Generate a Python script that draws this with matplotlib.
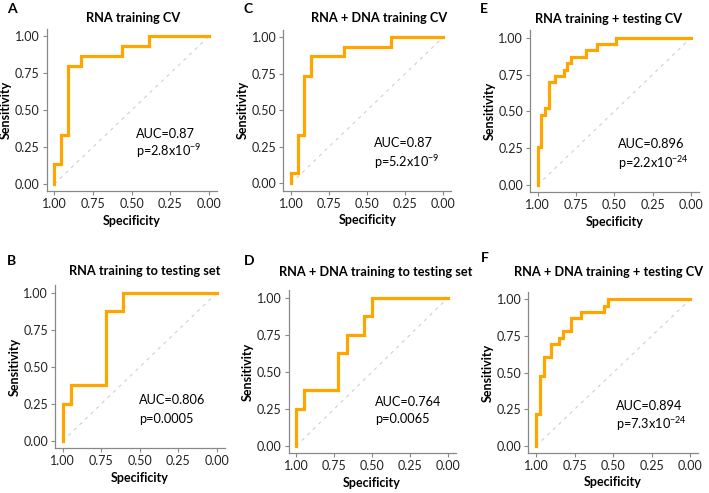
import numpy as np
import matplotlib
matplotlib.use('Agg')
import matplotlib.pyplot as plt

plt.rcParams['font.family'] = ['Lato', 'DejaVu Sans']
plt.rcParams['mathtext.default'] = 'regular'

W, H = 709, 493

# ROC step corners (specificity, sensitivity)
spec_A = [1.0, 1.0, 0.957, 0.957, 0.913, 0.913, 0.826, 0.826, 0.565, 0.565, 0.391, 0.391, 0.0]
sens_A = [0.0, 0.133, 0.133, 0.333, 0.333, 0.800, 0.800, 0.867, 0.867, 0.933, 0.933, 1.0, 1.0]

spec_C = [1.0, 1.0, 0.956, 0.956, 0.912, 0.912, 0.867, 0.867, 0.650, 0.650, 0.344, 0.344, 0.0]
sens_C = [0.0, 0.067, 0.067, 0.333, 0.333, 0.733, 0.733, 0.867, 0.867, 0.933, 0.933, 1.0, 1.0]

spec_E = [1.0, 1.0, 0.978, 0.978, 0.954, 0.954, 0.928, 0.928, 0.885, 0.885, 0.830, 0.830,
          0.809, 0.809, 0.783, 0.783, 0.685, 0.685, 0.615, 0.615, 0.487, 0.487, 0.0]
sens_E = [0.0, 0.261, 0.261, 0.478, 0.478, 0.522, 0.522, 0.696, 0.696, 0.739, 0.739, 0.783,
          0.783, 0.826, 0.826, 0.870, 0.870, 0.913, 0.913, 0.957, 0.957, 1.0, 1.0]

spec_B = [1.0, 1.0, 0.946, 0.946, 0.719, 0.719, 0.607, 0.607, 0.0]
sens_B = [0.0, 0.25, 0.25, 0.375, 0.375, 0.875, 0.875, 1.0, 1.0]

spec_D = [1.0, 1.0, 0.947, 0.947, 0.723, 0.723, 0.668, 0.668, 0.554, 0.554, 0.501, 0.501, 0.0]
sens_D = [0.0, 0.25, 0.25, 0.375, 0.375, 0.625, 0.625, 0.75, 0.75, 0.875, 0.875, 1.0, 1.0]

spec_F = [1.0, 1.0, 0.974, 0.974, 0.948, 0.948, 0.900, 0.900, 0.853, 0.853, 0.827, 0.827,
          0.775, 0.775, 0.710, 0.710, 0.557, 0.557, 0.536, 0.536, 0.0]
sens_F = [0.0, 0.217, 0.217, 0.478, 0.478, 0.609, 0.609, 0.696, 0.696, 0.739, 0.739, 0.783,
          0.783, 0.870, 0.870, 0.913, 0.913, 0.957, 0.957, 1.0, 1.0]

titles = ['RNA training CV', 'RNA + DNA training CV', 'RNA training + testing CV',
          'RNA training to testing set', 'RNA + DNA training to testing set',
          'RNA + DNA training + testing CV']
letters = ['A', 'C', 'E', 'B', 'D', 'F']
auc_txt = ['AUC=0.87', 'AUC=0.87', 'AUC=0.896', 'AUC=0.806', 'AUC=0.764', 'AUC=0.894']
p_txt = [r'p=2.8x10$^{-9}$', r'p=5.2x10$^{-9}$', r'p=2.2x10$^{-24}$',
         'p=0.0005', 'p=0.0065', r'p=7.3x10$^{-24}$']
ticks = [1.0, 0.75, 0.5, 0.25, 0.0]
tick_labels = ['1.00', '0.75', '0.50', '0.25', '0.00']

specs = [spec_A, spec_C, spec_E, spec_B, spec_D, spec_F]
senss = [sens_A, sens_C, sens_E, sens_B, sens_D, sens_F]

# axes boxes in pixels: left, top, right, bottom
boxes = [(46.5, 28.8, 216.8, 191.4), (283.4, 29.7, 451.0, 190.6), (530.0, 30.3, 698.7, 192.4),
         (55.0, 285.3, 224.7, 448.4), (288.7, 290.3, 455.6, 453.4), (528.3, 292.0, 698.0, 453.3)]
title_pos = [(133, 18), (379, 18), (609, 19), (145, 271), (376, 272), (609, 272)]
letter_pos = [(7, 3), (243, 3), (480, 3), (7, 255), (244, 255), (481, 252)]
txt_pos = [(0.472, 0.34, 0.22), (0.457, 0.278, 0.148), (0.478, 0.276, 0.152),
           (0.503, 0.276, 0.15), (0.479, 0.30, 0.18), (0.48, 0.273, 0.148)]

fig = plt.figure(figsize=(W / 100, H / 100), dpi=100)

for i in range(6):
    l, t, r, b = boxes[i]
    ax = fig.add_axes([l / W, 1 - b / H, (r - l) / W, (b - t) / H])
    ax.plot([1, 0], [0, 1], ls=(0, (3, 4)), color='#cfcfcf', lw=0.8)
    ax.plot(specs[i], senss[i], color='#FFA500', lw=2.3, solid_joinstyle='miter')
    ax.set_xlim(1.05, -0.05)
    ax.set_ylim(-0.05, 1.05)
    ax.set_xticks(ticks)
    ax.set_xticklabels(tick_labels)
    ax.set_yticks(ticks)
    ax.set_yticklabels(tick_labels)
    for s in ['top', 'right']:
        ax.spines[s].set_visible(False)
    for s in ['left', 'bottom']:
        ax.spines[s].set_color('#888888')
        ax.spines[s].set_linewidth(0.9)
    ax.tick_params(length=3, width=0.8, color='#888888', labelsize=9,
                   labelcolor='#222222', pad=2)
    ax.set_xlabel('Specificity', fontsize=9, fontweight='bold', labelpad=3)
    ax.set_ylabel('Sensitivity', fontsize=9, fontweight='bold', labelpad=2)
    x0, y1, y2 = txt_pos[i]
    ax.text(x0, y1, auc_txt[i], fontsize=9.2, ha='left', va='center')
    ax.text(x0, y2, p_txt[i], fontsize=9.2, ha='left', va='center')
    tx, ty = title_pos[i]
    fig.text(tx / W, 1 - ty / H, titles[i], fontsize=9.2, fontweight='bold',
             ha='center', va='center')
    lx, ly = letter_pos[i]
    fig.text(lx / W, 1 - ly / H, letters[i], fontsize=10, fontweight='bold',
             ha='left', va='top')

fig.savefig('out.png', dpi=100)
